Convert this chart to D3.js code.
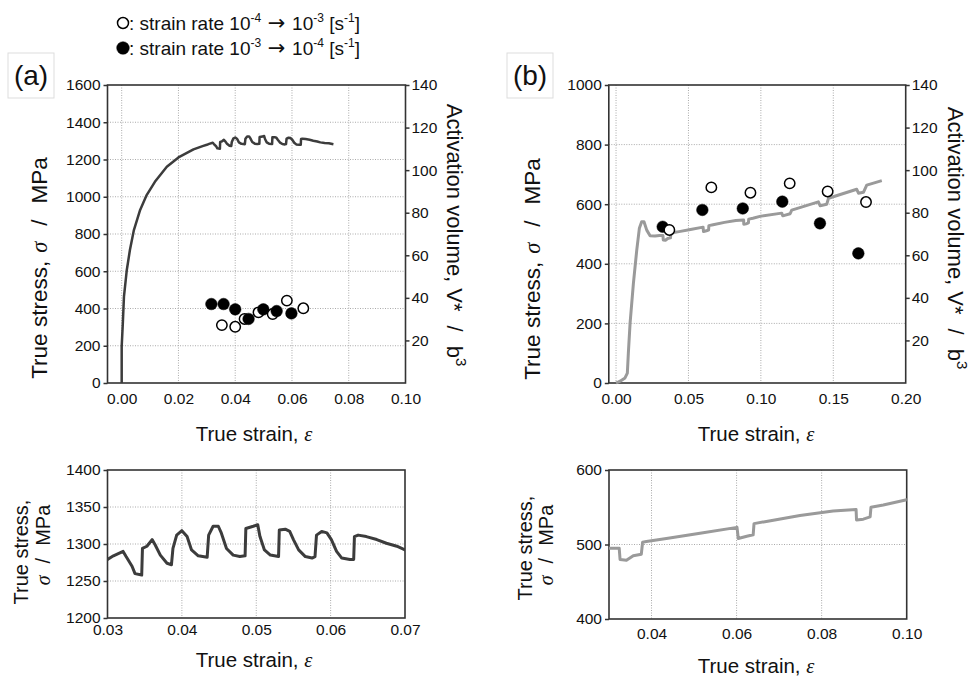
<!DOCTYPE html>
<html>
<head>
<meta charset="utf-8">
<script src="https://cdn.jsdelivr.net/npm/d3@7"></script>
<style>
  body { margin: 0; background: #fff; }
  text { font-family: "Liberation Sans", Arial, sans-serif; }
</style>
</head>
<body>
<svg id="chart"></svg>
<script>
// stress-strain curve of specimen (a): [true strain, true stress MPa]
const curveA = [
  [0, 0], [0, 196], [0.0004, 321], [0.0008, 464], [0.0018, 607], [0.0029, 714],
  [0.0043, 821], [0.0065, 929], [0.0088, 1009], [0.0117, 1080], [0.0159, 1161],
  [0.020, 1211], [0.0253, 1254], [0.0285, 1272], [0.030, 1279], [0.0308, 1284],
  [0.0321, 1290], [0.0325, 1283], [0.0333, 1270], [0.0337, 1260], [0.0346, 1258],
  [0.0347, 1294], [0.0353, 1297], [0.036, 1306], [0.0364, 1299], [0.0371, 1285],
  [0.038, 1274], [0.0386, 1272], [0.0388, 1294], [0.0393, 1312], [0.040, 1318],
  [0.0407, 1310], [0.0413, 1292], [0.0422, 1284], [0.0434, 1282], [0.0436, 1312],
  [0.0442, 1324], [0.0449, 1324], [0.0453, 1315], [0.046, 1294], [0.0469, 1285],
  [0.0478, 1283], [0.0485, 1284], [0.0486, 1321], [0.0496, 1324], [0.0502, 1326],
  [0.0505, 1310], [0.0511, 1292], [0.0519, 1285], [0.053, 1283], [0.0531, 1319],
  [0.0539, 1320], [0.0545, 1317], [0.055, 1306], [0.0557, 1292], [0.0566, 1283],
  [0.0575, 1281], [0.0579, 1283], [0.0581, 1312], [0.0588, 1317], [0.0595, 1315],
  [0.0601, 1306], [0.0608, 1290], [0.0615, 1281], [0.0626, 1279], [0.0631, 1279],
  [0.0632, 1310], [0.0637, 1312], [0.0648, 1310], [0.0662, 1306], [0.0675, 1301],
  [0.0689, 1297], [0.070, 1292], [0.0715, 1289], [0.073, 1287], [0.0746, 1282]
];

// stress-strain curve of specimen (b)
const curveB = [
  [0, 0], [0.0028, 6], [0.0062, 17], [0.0078, 33], [0.0085, 100], [0.0097, 201],
  [0.012, 335], [0.0143, 446], [0.0161, 519], [0.0177, 541], [0.0193, 541],
  [0.0212, 513], [0.0235, 494], [0.0269, 493], [0.030, 495], [0.0324, 495],
  [0.0326, 480], [0.0341, 479], [0.0357, 485], [0.0376, 487], [0.0379, 503],
  [0.0388, 504], [0.0435, 508], [0.0514, 515], [0.0601, 523], [0.0604, 508],
  [0.0624, 511], [0.0639, 513], [0.0641, 528], [0.067, 531], [0.0749, 539],
  [0.0827, 545], [0.0881, 547], [0.0882, 533], [0.0898, 534], [0.0914, 537],
  [0.0916, 550], [0.0945, 553], [0.100, 560], [0.1144, 570], [0.1151, 561],
  [0.1202, 568], [0.1213, 580], [0.1397, 608], [0.1409, 595], [0.1455, 600],
  [0.1467, 620], [0.1662, 650], [0.1674, 637], [0.1708, 640], [0.1731, 664],
  [0.1835, 679]
];

// activation volume V*/b^3 at strain-rate jumps
const aUpStrain = [0.0353, 0.040, 0.0433, 0.0482, 0.0532, 0.0582, 0.064];   // 1e-4 -> 1e-3 (open)
const aUpV = [27.2, 26.4, 30.1, 33.2, 32.4, 38.7, 35.1];
const aDownStrain = [0.0316, 0.0359, 0.040, 0.0447, 0.0499, 0.0546, 0.0598]; // 1e-3 -> 1e-4 (filled)
const aDownV = [37.1, 37.1, 34.6, 30.1, 34.6, 33.8, 32.7];

const bUpStrain = [0.0368, 0.0658, 0.0928, 0.1199, 0.1461, 0.1726];
const bUpV = [71.9, 91.9, 89.4, 93.8, 90.0, 85.0];
const bDownStrain = [0.0322, 0.0596, 0.0875, 0.1148, 0.1408, 0.1673];
const bDownV = [73.4, 81.3, 82.0, 85.2, 75.0, 60.9];

// tick values
const aTopXTicks = [0, 0.02, 0.04, 0.06, 0.08, 0.10];
const aTopYTicks = [0, 200, 400, 600, 800, 1000, 1200, 1400, 1600];
const bTopXTicks = [0, 0.05, 0.10, 0.15, 0.20];
const bTopYTicks = [0, 200, 400, 600, 800, 1000];
const volTicks = [20, 40, 60, 80, 100, 120, 140];
const aBotXTicks = [0.03, 0.04, 0.05, 0.06, 0.07];
const aBotYTicks = [1200, 1250, 1300, 1350, 1400];
const bBotXTicks = [0.04, 0.06, 0.08, 0.10];
const bBotYTicks = [400, 500, 600];

const width = 974, height = 677;
const svg = d3.select("#chart").attr("width", width).attr("height", height);

const serif = "'Liberation Serif', 'Times New Roman', serif";

// draws grid, frame and axes for one panel, returns the scales
function panel(cfg) {
  const x = d3.scaleLinear().domain(cfg.xDomain).range([cfg.left, cfg.right]);
  const y = d3.scaleLinear().domain(cfg.yDomain).range([cfg.bottom, cfg.top]);

  const g = svg.append("g");

  // dotted grid
  g.selectAll(".vg").data(cfg.xGrid).enter().append("line")
    .attr("x1", d => x(d)).attr("x2", d => x(d))
    .attr("y1", cfg.top).attr("y2", cfg.bottom)
    .attr("stroke", "#aaa").attr("stroke-dasharray", "1,1.5");
  g.selectAll(".hg").data(cfg.yGrid).enter().append("line")
    .attr("x1", cfg.left).attr("x2", cfg.right)
    .attr("y1", d => y(d)).attr("y2", d => y(d))
    .attr("stroke", "#aaa").attr("stroke-dasharray", "1,1.5");

  const yAxis = g.append("g")
    .attr("transform", `translate(${cfg.left},0)`)
    .call(d3.axisLeft(y).tickValues(cfg.yTicks).tickSize(4).tickPadding(3).tickFormat(d3.format("d")));
  yAxis.select(".domain").remove();

  const xAxis = g.append("g")
    .attr("transform", `translate(0,${cfg.bottom})`)
    .call(d3.axisBottom(x).tickValues(cfg.xTicks).tickSize(0).tickPadding(cfg.xPad).tickFormat(d3.format(".2f")));
  xAxis.select(".domain").remove();

  g.selectAll(".tick text")
    .attr("font-family", "'Liberation Sans', Arial, sans-serif")
    .attr("font-size", 15.5).attr("fill", "#111");
  g.selectAll(".tick line").attr("stroke", "#333").attr("stroke-width", 1.5);

  // frame
  g.append("rect")
    .attr("x", cfg.left).attr("y", cfg.top)
    .attr("width", cfg.right - cfg.left).attr("height", cfg.bottom - cfg.top)
    .attr("fill", "none").attr("stroke", "#333").attr("stroke-width", 1.6);

  return { x, y, g };
}

// right axis for activation volume
function volumeAxis(p, cfg) {
  const v = d3.scaleLinear().domain([0, 140]).range([cfg.bottom, cfg.top]);
  const a = p.g.append("g")
    .attr("transform", `translate(${cfg.right},0)`)
    .call(d3.axisRight(v).tickValues(volTicks).tickSize(4).tickPadding(2));
  a.select(".domain").remove();
  a.selectAll(".tick text")
    .attr("font-family", "'Liberation Sans', Arial, sans-serif")
    .attr("font-size", 15.5).attr("fill", "#111");
  a.selectAll(".tick line").attr("stroke", "#333").attr("stroke-width", 1.5);
  return v;
}

function drawCurve(p, data, color, w, clipId) {
  const line = d3.line().x(d => p.x(d[0])).y(d => p.y(d[1]));
  const path = p.g.append("path")
    .datum(data)
    .attr("d", line)
    .attr("fill", "none")
    .attr("stroke", color)
    .attr("stroke-width", w)
    .attr("stroke-linejoin", "round");
  if (clipId) path.attr("clip-path", `url(#${clipId})`);
}

function drawMarkers(p, v, upS, upV, downS, downV) {
  const pts = [];
  upS.forEach((s, i) => pts.push({ s: s, v: upV[i], open: true }));
  downS.forEach((s, i) => pts.push({ s: s, v: downV[i], open: false }));
  pts.sort((a, b) => a.s - b.s);
  p.g.selectAll(".mk").data(pts).enter().append("circle")
    .attr("cx", d => p.x(d.s))
    .attr("cy", d => v(d.v))
    .attr("r", d => d.open ? 5.2 : 5.8)
    .attr("fill", d => d.open ? "#fff" : "#000")
    .attr("stroke", "#000")
    .attr("stroke-width", d => d.open ? 1.5 : 0.5);
}

// stress label, rotated; parts may carry an extra dx gap
function stressLabel(x, y, size, parts) {
  const t = svg.append("text")
    .attr("transform", `translate(${x},${y}) rotate(-90)`)
    .attr("text-anchor", "middle")
    .attr("font-size", size)
    .attr("fill", "#111");
  parts.forEach(p => {
    const s = t.append("tspan").text(p.t);
    if (p.dx) s.attr("dx", p.dx);
    if (p.serif) s.attr("font-family", serif).attr("font-style", "italic");
  });
}

function strainLabel(x, y) {
  const t = svg.append("text")
    .attr("x", x).attr("y", y)
    .attr("text-anchor", "middle")
    .attr("font-size", 20.5)
    .attr("fill", "#111");
  t.append("tspan").text("True strain, ");
  t.append("tspan").text("ε").attr("font-family", serif).attr("font-style", "italic");
}

function volumeLabel(x, y) {
  const t = svg.append("text")
    .attr("transform", `translate(${x},${y}) rotate(90)`)
    .attr("text-anchor", "middle")
    .attr("font-size", 22)
    .attr("fill", "#111");
  t.append("tspan").text("Activation volume, V*");
  t.append("tspan").text("/").attr("dx", 14);
  t.append("tspan").text("b").attr("dx", 14);
  t.append("tspan").text("3").attr("font-size", 15).attr("dy", -9);
}

function panelTag(x, label) {
  svg.append("rect")
    .attr("x", x).attr("y", 53).attr("width", 46).attr("height", 45)
    .attr("fill", "#fff").attr("stroke", "#ddd");
  svg.append("text")
    .attr("x", x + 23).attr("y", 85)
    .attr("text-anchor", "middle")
    .attr("font-size", 28)
    .attr("fill", "#111")
    .text(label);
}

// clip paths for the zoomed panels
const defs = svg.append("defs");

// ---- (a) main panel
const aTopCfg = { left: 107.5, right: 405.5, top: 85, bottom: 383, xDomain: [-0.005, 0.10], yDomain: [0, 1600],
  xTicks: aTopXTicks, yTicks: aTopYTicks, xGrid: [0, 0.02, 0.04, 0.06, 0.08], yGrid: [200, 400, 600, 800, 1000, 1200, 1400], xPad: 10 };
const aTop = panel(aTopCfg);
const aVol = volumeAxis(aTop, aTopCfg);
drawCurve(aTop, curveA, "#3c3c3c", 2.5);
drawMarkers(aTop, aVol, aUpStrain, aUpV, aDownStrain, aDownV);

// ---- (b) main panel
const bTopCfg = { left: 608.8, right: 905.7, top: 85, bottom: 383, xDomain: [-0.005, 0.20], yDomain: [0, 1000],
  xTicks: bTopXTicks, yTicks: bTopYTicks, xGrid: [0, 0.05, 0.10, 0.15], yGrid: [200, 400, 600, 800], xPad: 10 };
const bTop = panel(bTopCfg);
const bVol = volumeAxis(bTop, bTopCfg);
drawCurve(bTop, curveB, "#9a9a9a", 3);
drawMarkers(bTop, bVol, bUpStrain, bUpV, bDownStrain, bDownV);

// ---- (a) zoom panel
const aBotCfg = { left: 107.5, right: 405, top: 470, bottom: 618, xDomain: [0.03, 0.07], yDomain: [1200, 1400],
  xTicks: aBotXTicks, yTicks: aBotYTicks, xGrid: [0.04, 0.05, 0.06], yGrid: [1250, 1300, 1350], xPad: 6 };
defs.append("clipPath").attr("id", "clipA").append("rect")
  .attr("x", aBotCfg.left).attr("y", aBotCfg.top)
  .attr("width", aBotCfg.right - aBotCfg.left).attr("height", aBotCfg.bottom - aBotCfg.top);
const aBot = panel(aBotCfg);
drawCurve(aBot, curveA, "#3c3c3c", 3, "clipA");

// ---- (b) zoom panel
const bBotCfg = { left: 609, right: 906.7, top: 470, bottom: 619, xDomain: [0.03, 0.10], yDomain: [400, 600],
  xTicks: bBotXTicks, yTicks: bBotYTicks, xGrid: [0.04, 0.06, 0.08], yGrid: [500], xPad: 9 };
defs.append("clipPath").attr("id", "clipB").append("rect")
  .attr("x", bBotCfg.left).attr("y", bBotCfg.top)
  .attr("width", bBotCfg.right - bBotCfg.left).attr("height", bBotCfg.bottom - bBotCfg.top);
const bBot = panel(bBotCfg);
drawCurve(bBot, curveB, "#9a9a9a", 3, "clipB");

// axis titles
const topStress = [{ t: "True stress," }, { t: "σ", serif: true, dx: 8 }, { t: "/", dx: 16 }, { t: "MPa", dx: 16 }];
stressLabel(47, 268, 22.5, topStress);
stressLabel(540, 269, 22.5, topStress);
volumeLabel(447, 235);
volumeLabel(948, 238);
strainLabel(254, 441);
strainLabel(756, 441);
strainLabel(254, 667);
strainLabel(756, 673);

stressLabel(28, 552, 20, [{ t: "True stress," }]);
stressLabel(50, 545, 20, [{ t: "σ", serif: true }, { t: "/", dx: 12 }, { t: "MPa", dx: 12 }]);
stressLabel(532, 548, 20, [{ t: "True stress," }]);
stressLabel(553, 545, 20, [{ t: "σ", serif: true }, { t: "/", dx: 12 }, { t: "MPa", dx: 12 }]);

panelTag(8, "(a)");
panelTag(507, "(b)");

// legend
const legendRows = [
  { open: true, a: "-4", b: "-3" },
  { open: false, a: "-3", b: "-4" }
];
legendRows.forEach((row, i) => {
  const cy = 23 + i * 25;
  svg.append("circle")
    .attr("cx", 123).attr("cy", cy)
    .attr("r", row.open ? 5.5 : 6.3)
    .attr("fill", row.open ? "#fff" : "#000")
    .attr("stroke", "#000").attr("stroke-width", row.open ? 1.5 : 0.5);
  const t = svg.append("text")
    .attr("x", 129).attr("y", cy + 6.5)
    .attr("font-size", 19).attr("fill", "#111");
  t.append("tspan").text(": strain rate 10");
  t.append("tspan").text(row.a).attr("font-size", 12).attr("dy", -8);
  t.append("tspan").text(" → ").attr("dy", 8).attr("font-family", "'DejaVu Sans', sans-serif").attr("font-size", 21);
  t.append("tspan").text("10");
  t.append("tspan").text(row.b).attr("font-size", 12).attr("dy", -8);
  t.append("tspan").text(" [s").attr("dy", 8);
  t.append("tspan").text("-1").attr("font-size", 12).attr("dy", -8);
  t.append("tspan").text("]").attr("dy", 8);
});
</script>
</body>
</html>
